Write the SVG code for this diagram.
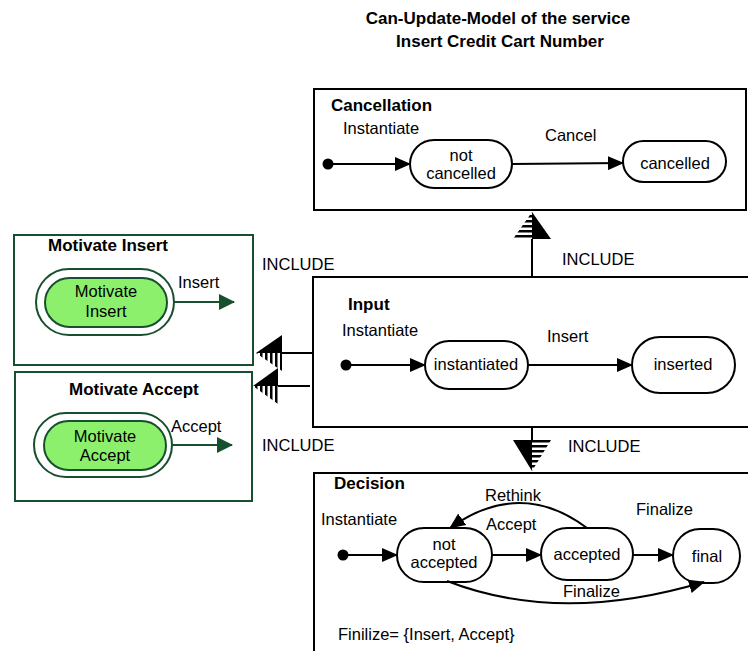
<svg xmlns="http://www.w3.org/2000/svg" width="748" height="651" viewBox="0 0 748 651">
<defs>
<style>
text{font-family:"Liberation Sans",Arial,sans-serif;font-size:16.5px;fill:#000}
.b{font-weight:bold;font-size:17px}
.c{text-anchor:middle}
.frame{fill:#fff;stroke:#000;stroke-width:2}
.gframe{fill:#fff;stroke:#17502f;stroke-width:2}
.st{fill:#fff;stroke:#000;stroke-width:2}
.gst{fill:#8cf06c;stroke:#17502f;stroke-width:2}
.ln{fill:none;stroke:#000;stroke-width:2}
.gln{fill:none;stroke:#17502f;stroke-width:2}
</style>
<marker id="ah" markerUnits="userSpaceOnUse" markerWidth="16" markerHeight="14" refX="15" refY="7" orient="auto">
<path d="M0,0 L16,7 L0,14 z" fill="#000"/>
</marker>
<marker id="gah" markerUnits="userSpaceOnUse" markerWidth="16" markerHeight="16" refX="15" refY="8" orient="auto">
<path d="M0,0 L16,8 L0,16 z" fill="#17502f"/>
</marker>
<pattern id="hs" patternUnits="userSpaceOnUse" width="10" height="5">
<rect x="0" y="0" width="10" height="2.5" fill="#000"/>
</pattern>
<pattern id="vs" patternUnits="userSpaceOnUse" width="5" height="10">
<rect x="0" y="0" width="2.5" height="10" fill="#000"/>
</pattern>
</defs>
<rect width="748" height="651" fill="#fff"/>

<g id="title">
<text class="b c" x="498" y="24">Can-Update-Model of the service</text>
<text class="b c" x="500" y="47">Insert Credit Cart Number</text>
</g>

<g id="cancellation">
<rect class="frame" x="314" y="89" width="432" height="121"/>
<text class="b" x="331" y="111">Cancellation</text>
<text x="343" y="134">Instantiate</text>
<text x="545" y="141">Cancel</text>
<rect class="st" x="410" y="140" width="102" height="48" rx="24"/>
<text class="c" x="461" y="161">not</text>
<text class="c" x="461" y="179">cancelled</text>
<rect class="st" x="623" y="141" width="103" height="41" rx="20.5"/>
<text class="c" x="675" y="169">cancelled</text>
<circle cx="328" cy="164" r="5.5" fill="#000"/>
</g>

<g id="input">
<rect class="frame" x="313" y="277" width="460" height="150"/>
<text class="b" x="348" y="310">Input</text>
<text x="342" y="336">Instantiate</text>
<text x="547" y="342">Insert</text>
<rect class="st" x="425" y="341" width="103" height="48" rx="24"/>
<text class="c" x="476" y="370">instantiated</text>
<rect class="st" x="632" y="337" width="103" height="56" rx="28"/>
<text class="c" x="683" y="370">inserted</text>
<circle cx="346" cy="365" r="5.5" fill="#000"/>
</g>

<g id="decision">
<rect class="frame" x="314" y="473" width="460" height="200"/>
<text class="b" x="334" y="489">Decision</text>
<text x="321" y="525">Instantiate</text>
<text x="485" y="501">Rethink</text>
<text x="486" y="530">Accept</text>
<text x="636" y="515">Finalize</text>
<text x="563" y="597">Finalize</text>
<text x="338" y="640">Finilize= {Insert, Accept}</text>
<rect class="st" x="397" y="528" width="95" height="54" rx="27"/>
<text class="c" x="444" y="550">not</text>
<text class="c" x="444" y="568">accepted</text>
<rect class="st" x="541" y="528" width="92" height="52" rx="26"/>
<text class="c" x="587" y="560">accepted</text>
<rect class="st" x="673" y="529" width="67" height="54" rx="27"/>
<text class="c" x="707" y="562">final</text>
<circle cx="343" cy="555" r="5.5" fill="#000"/>
</g>

<g id="motivate-insert">
<rect class="gframe" x="14" y="235" width="239" height="130"/>
<text class="b" x="48" y="251">Motivate Insert</text>
<rect class="gframe" x="36" y="269" width="138" height="66" rx="33"/>
<rect class="gst" x="45" y="278" width="122" height="49" rx="24.5"/>
<text class="c" x="106" y="297">Motivate</text>
<text class="c" x="106" y="317">Insert</text>
<text x="178" y="288">Insert</text>
</g>

<g id="motivate-accept">
<rect class="gframe" x="15" y="372" width="237" height="129"/>
<text class="b" x="69" y="395">Motivate Accept</text>
<rect class="gframe" x="34" y="413" width="138" height="64" rx="32"/>
<rect class="gst" x="44" y="421" width="122" height="49" rx="24.5"/>
<text class="c" x="105" y="442">Motivate</text>
<text class="c" x="105" y="461">Accept</text>
<text x="171" y="432">Accept</text>
</g>

<g id="include-labels">
<text x="262" y="270">INCLUDE</text>
<text x="562" y="265">INCLUDE</text>
<text x="262" y="451">INCLUDE</text>
<text x="568" y="452">INCLUDE</text>
</g>

<g id="connectors">
<line class="ln" x1="333" y1="164" x2="410" y2="164" marker-end="url(#ah)"/>
<line class="ln" x1="512" y1="164" x2="623" y2="163" marker-end="url(#ah)"/>
<line class="ln" x1="351" y1="365" x2="425" y2="365" marker-end="url(#ah)"/>
<line class="ln" x1="528" y1="365" x2="632" y2="365" marker-end="url(#ah)"/>
<line class="ln" x1="348" y1="555" x2="397" y2="555" marker-end="url(#ah)"/>
<line class="ln" x1="492" y1="555" x2="541" y2="555" marker-end="url(#ah)"/>
<line class="ln" x1="633" y1="555" x2="673" y2="555" marker-end="url(#ah)"/>
<path class="ln" d="M587,528 Q520,478 450,528" marker-end="url(#ah)"/>
<path class="ln" d="M447,581 Q560,625 704,582" marker-end="url(#ah)"/>
<line class="gln" x1="174" y1="302" x2="234" y2="302" marker-end="url(#gah)"/>
<line class="gln" x1="172" y1="445" x2="232" y2="445" marker-end="url(#gah)"/>

<line class="ln" x1="532" y1="239" x2="532" y2="277"/>
<polygon points="532,212 551,239 532,239" fill="#000"/>
<polygon points="532,212 513,239 532,239" fill="url(#hs)"/>

<line class="ln" x1="532" y1="427" x2="532" y2="440"/>
<polygon points="532,471 513,440 532,440" fill="#000"/>
<polygon points="532,471 551,440 532,440" fill="url(#hs)"/>

<line class="ln" x1="282" y1="353" x2="313" y2="353"/>
<polygon points="256,353 282,335 282,353" fill="#000"/>
<polygon points="256,353 282,353 282,371" fill="url(#vs)"/>

<line class="ln" x1="278" y1="386" x2="310" y2="386"/>
<polygon points="253,386 278,368 278,386" fill="#000"/>
<polygon points="253,386 278,386 278,404" fill="url(#vs)"/>
</g>
</svg>
